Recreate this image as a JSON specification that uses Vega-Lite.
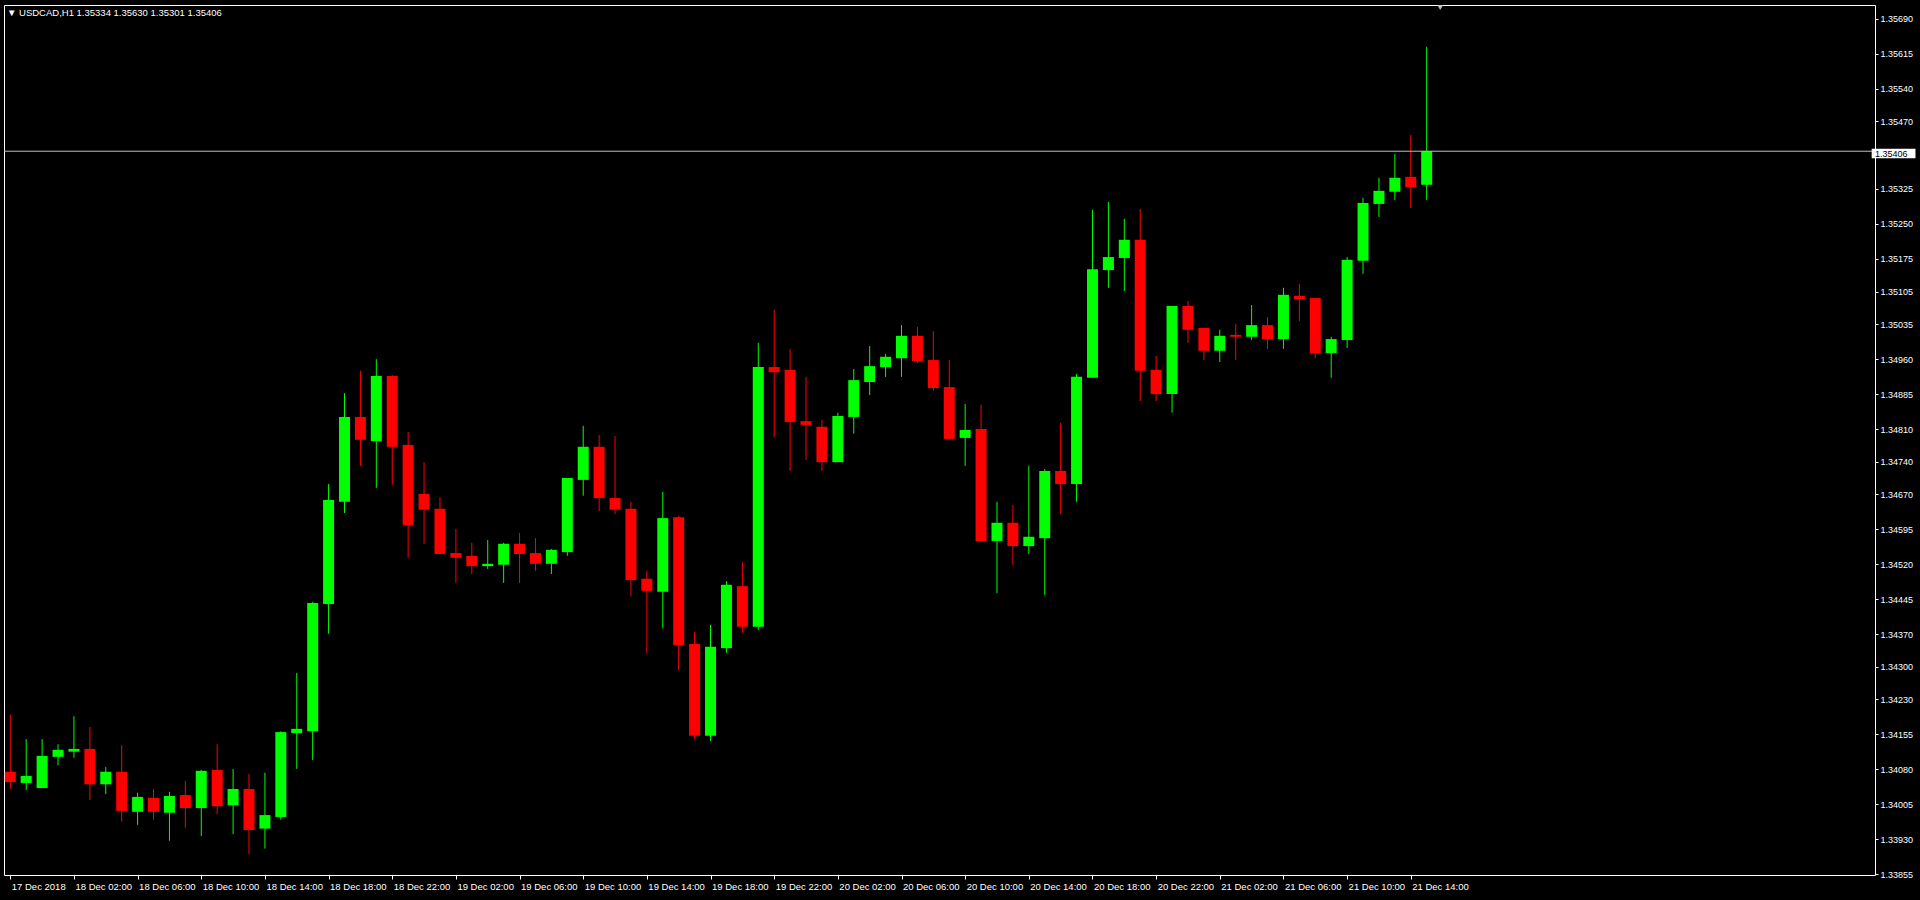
{
  "$schema": "https://vega.github.io/schema/vega-lite/v6.json",
  "width": 1871,
  "height": 870,
  "autosize": "none",
  "padding": {"left": 4, "top": 5, "right": 45, "bottom": 25},
  "background": "#000000",
  "title": {
    "text": "▼ USDCAD,H1  1.35334 1.35630 1.35301 1.35406",
    "anchor": "start",
    "frame": "group",
    "orient": "top",
    "offset": -20,
    "baseline": "alphabetic",
    "dx": 3,
    "color": "#ffffff",
    "font": "Liberation Sans",
    "fontSize": 9.5,
    "fontWeight": "normal"
  },
  "datasets": {
    "candles": [
      {"t": "2018-12-17T22:00Z", "o": 1.34075, "h": 1.34198, "l": 1.34038, "c": 1.34053},
      {"t": "2018-12-17T23:00Z", "o": 1.34051, "h": 1.34145, "l": 1.34036, "c": 1.34066},
      {"t": "2018-12-18T00:00Z", "o": 1.34040, "h": 1.34145, "l": 1.34040, "c": 1.34109},
      {"t": "2018-12-18T01:00Z", "o": 1.34107, "h": 1.34134, "l": 1.34089, "c": 1.34122},
      {"t": "2018-12-18T02:00Z", "o": 1.34118, "h": 1.34194, "l": 1.34105, "c": 1.34124},
      {"t": "2018-12-18T03:00Z", "o": 1.34124, "h": 1.34171, "l": 1.34014, "c": 1.34048},
      {"t": "2018-12-18T04:00Z", "o": 1.34048, "h": 1.34085, "l": 1.34027, "c": 1.34075},
      {"t": "2018-12-18T05:00Z", "o": 1.34075, "h": 1.34132, "l": 1.33968, "c": 1.33991},
      {"t": "2018-12-18T06:00Z", "o": 1.33989, "h": 1.34030, "l": 1.33961, "c": 1.34021},
      {"t": "2018-12-18T07:00Z", "o": 1.34019, "h": 1.34038, "l": 1.33972, "c": 1.33989},
      {"t": "2018-12-18T08:00Z", "o": 1.33987, "h": 1.34032, "l": 1.33927, "c": 1.34023},
      {"t": "2018-12-18T09:00Z", "o": 1.34025, "h": 1.34055, "l": 1.33955, "c": 1.33997},
      {"t": "2018-12-18T10:00Z", "o": 1.33997, "h": 1.34079, "l": 1.33937, "c": 1.34077},
      {"t": "2018-12-18T11:00Z", "o": 1.34079, "h": 1.34134, "l": 1.33984, "c": 1.34001},
      {"t": "2018-12-18T12:00Z", "o": 1.34003, "h": 1.34081, "l": 1.33941, "c": 1.34038},
      {"t": "2018-12-18T13:00Z", "o": 1.34038, "h": 1.34070, "l": 1.33898, "c": 1.33950},
      {"t": "2018-12-18T14:00Z", "o": 1.33953, "h": 1.34073, "l": 1.33910, "c": 1.33982},
      {"t": "2018-12-18T15:00Z", "o": 1.33978, "h": 1.34162, "l": 1.33972, "c": 1.34160},
      {"t": "2018-12-18T16:00Z", "o": 1.34158, "h": 1.34287, "l": 1.34081, "c": 1.34167},
      {"t": "2018-12-18T17:00Z", "o": 1.34162, "h": 1.34439, "l": 1.34100, "c": 1.34437},
      {"t": "2018-12-18T18:00Z", "o": 1.34435, "h": 1.34692, "l": 1.34371, "c": 1.34658},
      {"t": "2018-12-18T19:00Z", "o": 1.34654, "h": 1.34887, "l": 1.34630, "c": 1.34836},
      {"t": "2018-12-18T20:00Z", "o": 1.34836, "h": 1.34935, "l": 1.34731, "c": 1.34787},
      {"t": "2018-12-18T21:00Z", "o": 1.34784, "h": 1.34960, "l": 1.34684, "c": 1.34924},
      {"t": "2018-12-18T22:00Z", "o": 1.34924, "h": 1.34926, "l": 1.34690, "c": 1.34772},
      {"t": "2018-12-18T23:00Z", "o": 1.34776, "h": 1.34804, "l": 1.34534, "c": 1.34604},
      {"t": "2018-12-19T00:00Z", "o": 1.34671, "h": 1.34739, "l": 1.34564, "c": 1.34637},
      {"t": "2018-12-19T01:00Z", "o": 1.34639, "h": 1.34664, "l": 1.34542, "c": 1.34542},
      {"t": "2018-12-19T02:00Z", "o": 1.34544, "h": 1.34596, "l": 1.34480, "c": 1.34534},
      {"t": "2018-12-19T03:00Z", "o": 1.34538, "h": 1.34566, "l": 1.34499, "c": 1.34516},
      {"t": "2018-12-19T04:00Z", "o": 1.34516, "h": 1.34572, "l": 1.34510, "c": 1.34521},
      {"t": "2018-12-19T05:00Z", "o": 1.34519, "h": 1.34566, "l": 1.34480, "c": 1.34564},
      {"t": "2018-12-19T06:00Z", "o": 1.34564, "h": 1.34587, "l": 1.34480, "c": 1.34542},
      {"t": "2018-12-19T07:00Z", "o": 1.34544, "h": 1.34576, "l": 1.34506, "c": 1.34521},
      {"t": "2018-12-19T08:00Z", "o": 1.34521, "h": 1.34553, "l": 1.34499, "c": 1.34551},
      {"t": "2018-12-19T09:00Z", "o": 1.34546, "h": 1.34705, "l": 1.34538, "c": 1.34705},
      {"t": "2018-12-19T10:00Z", "o": 1.34701, "h": 1.34817, "l": 1.34667, "c": 1.34772},
      {"t": "2018-12-19T11:00Z", "o": 1.34772, "h": 1.34797, "l": 1.34634, "c": 1.34662},
      {"t": "2018-12-19T12:00Z", "o": 1.34662, "h": 1.34795, "l": 1.34628, "c": 1.34637},
      {"t": "2018-12-19T13:00Z", "o": 1.34639, "h": 1.34654, "l": 1.34452, "c": 1.34486},
      {"t": "2018-12-19T14:00Z", "o": 1.34489, "h": 1.34506, "l": 1.34328, "c": 1.34463},
      {"t": "2018-12-19T15:00Z", "o": 1.34461, "h": 1.34675, "l": 1.34383, "c": 1.34619},
      {"t": "2018-12-19T16:00Z", "o": 1.34621, "h": 1.34624, "l": 1.34293, "c": 1.34347},
      {"t": "2018-12-19T17:00Z", "o": 1.34349, "h": 1.34375, "l": 1.34145, "c": 1.34152},
      {"t": "2018-12-19T18:00Z", "o": 1.34152, "h": 1.34390, "l": 1.34141, "c": 1.34343},
      {"t": "2018-12-19T19:00Z", "o": 1.34340, "h": 1.34484, "l": 1.34330, "c": 1.34476},
      {"t": "2018-12-19T20:00Z", "o": 1.34473, "h": 1.34525, "l": 1.34373, "c": 1.34386},
      {"t": "2018-12-19T21:00Z", "o": 1.34386, "h": 1.34995, "l": 1.34379, "c": 1.34943},
      {"t": "2018-12-19T22:00Z", "o": 1.34943, "h": 1.35066, "l": 1.34793, "c": 1.34932},
      {"t": "2018-12-19T23:00Z", "o": 1.34937, "h": 1.34982, "l": 1.34720, "c": 1.34825},
      {"t": "2018-12-20T00:00Z", "o": 1.34827, "h": 1.34922, "l": 1.34744, "c": 1.34819},
      {"t": "2018-12-20T01:00Z", "o": 1.34815, "h": 1.34830, "l": 1.34720, "c": 1.34739},
      {"t": "2018-12-20T02:00Z", "o": 1.34739, "h": 1.34845, "l": 1.34739, "c": 1.34838},
      {"t": "2018-12-20T03:00Z", "o": 1.34836, "h": 1.34939, "l": 1.34800, "c": 1.34915},
      {"t": "2018-12-20T04:00Z", "o": 1.34911, "h": 1.34988, "l": 1.34883, "c": 1.34945},
      {"t": "2018-12-20T05:00Z", "o": 1.34943, "h": 1.34971, "l": 1.34922, "c": 1.34965},
      {"t": "2018-12-20T06:00Z", "o": 1.34962, "h": 1.35033, "l": 1.34922, "c": 1.35010},
      {"t": "2018-12-20T07:00Z", "o": 1.35010, "h": 1.35029, "l": 1.34952, "c": 1.34956},
      {"t": "2018-12-20T08:00Z", "o": 1.34958, "h": 1.35020, "l": 1.34892, "c": 1.34898},
      {"t": "2018-12-20T09:00Z", "o": 1.34900, "h": 1.34958, "l": 1.34787, "c": 1.34789},
      {"t": "2018-12-20T10:00Z", "o": 1.34791, "h": 1.34864, "l": 1.34731, "c": 1.34808},
      {"t": "2018-12-20T11:00Z", "o": 1.34810, "h": 1.34862, "l": 1.34570, "c": 1.34570},
      {"t": "2018-12-20T12:00Z", "o": 1.34570, "h": 1.34654, "l": 1.34458, "c": 1.34609},
      {"t": "2018-12-20T13:00Z", "o": 1.34609, "h": 1.34647, "l": 1.34519, "c": 1.34559},
      {"t": "2018-12-20T14:00Z", "o": 1.34559, "h": 1.34731, "l": 1.34542, "c": 1.34579},
      {"t": "2018-12-20T15:00Z", "o": 1.34576, "h": 1.34724, "l": 1.34454, "c": 1.34720},
      {"t": "2018-12-20T16:00Z", "o": 1.34720, "h": 1.34823, "l": 1.34628, "c": 1.34692},
      {"t": "2018-12-20T17:00Z", "o": 1.34692, "h": 1.34928, "l": 1.34654, "c": 1.34922},
      {"t": "2018-12-20T18:00Z", "o": 1.34920, "h": 1.35280, "l": 1.34920, "c": 1.35153},
      {"t": "2018-12-20T19:00Z", "o": 1.35151, "h": 1.35297, "l": 1.35113, "c": 1.35179},
      {"t": "2018-12-20T20:00Z", "o": 1.35177, "h": 1.35261, "l": 1.35106, "c": 1.35216},
      {"t": "2018-12-20T21:00Z", "o": 1.35216, "h": 1.35282, "l": 1.34870, "c": 1.34935},
      {"t": "2018-12-20T22:00Z", "o": 1.34937, "h": 1.34967, "l": 1.34870, "c": 1.34885},
      {"t": "2018-12-20T23:00Z", "o": 1.34885, "h": 1.35074, "l": 1.34845, "c": 1.35074},
      {"t": "2018-12-21T00:00Z", "o": 1.35074, "h": 1.35085, "l": 1.34995, "c": 1.35023},
      {"t": "2018-12-21T01:00Z", "o": 1.35027, "h": 1.35027, "l": 1.34958, "c": 1.34978},
      {"t": "2018-12-21T02:00Z", "o": 1.34978, "h": 1.35023, "l": 1.34954, "c": 1.35010},
      {"t": "2018-12-21T03:00Z", "o": 1.35012, "h": 1.35035, "l": 1.34958, "c": 1.35008},
      {"t": "2018-12-21T04:00Z", "o": 1.35008, "h": 1.35076, "l": 1.35001, "c": 1.35033},
      {"t": "2018-12-21T05:00Z", "o": 1.35033, "h": 1.35050, "l": 1.34982, "c": 1.35003},
      {"t": "2018-12-21T06:00Z", "o": 1.35003, "h": 1.35113, "l": 1.34982, "c": 1.35098},
      {"t": "2018-12-21T07:00Z", "o": 1.35096, "h": 1.35121, "l": 1.35042, "c": 1.35089},
      {"t": "2018-12-21T08:00Z", "o": 1.35091, "h": 1.35091, "l": 1.34962, "c": 1.34972},
      {"t": "2018-12-21T09:00Z", "o": 1.34973, "h": 1.35008, "l": 1.34920, "c": 1.35003},
      {"t": "2018-12-21T10:00Z", "o": 1.35001, "h": 1.35179, "l": 1.34984, "c": 1.35173},
      {"t": "2018-12-21T11:00Z", "o": 1.35171, "h": 1.35306, "l": 1.35143, "c": 1.35295},
      {"t": "2018-12-21T12:00Z", "o": 1.35293, "h": 1.35349, "l": 1.35265, "c": 1.35321},
      {"t": "2018-12-21T13:00Z", "o": 1.35319, "h": 1.35400, "l": 1.35301, "c": 1.35349},
      {"t": "2018-12-21T14:00Z", "o": 1.35351, "h": 1.35441, "l": 1.35284, "c": 1.35329},
      {"t": "2018-12-21T15:00Z", "o": 1.35334, "h": 1.35630, "l": 1.35301, "c": 1.35406}
    ],
    "last": [{"price": 1.35406}]
  },
  "layer": [
    {
      "data": {"name": "candles"},
      "mark": {"type": "rule", "strokeWidth": 1},
      "encoding": {
        "x": {
          "field": "t", "type": "temporal",
          "scale": {"type": "utc", "domain": [1545083707500, 1545504682500]},
          "axis": {
            "title": null,
            "values": [1545084000000, 1545098400000, 1545112800000, 1545127200000, 1545141600000, 1545156000000, 1545170400000, 1545184800000, 1545199200000, 1545213600000, 1545228000000, 1545242400000, 1545256800000, 1545271200000, 1545285600000, 1545300000000, 1545314400000, 1545328800000, 1545343200000, 1545357600000, 1545372000000, 1545386400000, 1545400800000],
            "labelExpr": "utcFormat(datum.value, '%d %H') == '17 22' ? '17 Dec 2018' : utcFormat(datum.value, '%d %b %H:%M')",
            "labelAlign": "left",
            "labelBaseline": "top",
            "labelFontSize": 9.5,
            "labelPadding": 2,
            "labelOffset": 1,
            "tickSize": 4
          }
        },
        "y": {
          "field": "l", "type": "quantitative",
          "scale": {"domain": [1.338535, 1.357196], "nice": false, "zero": false},
          "axis": {
            "title": null,
            "orient": "right",
            "values": [1.33855, 1.3393, 1.34005, 1.3408, 1.34155, 1.3423, 1.343, 1.3437, 1.34445, 1.3452, 1.34595, 1.3467, 1.3474, 1.3481, 1.34885, 1.3496, 1.35035, 1.35105, 1.35175, 1.3525, 1.35325, 1.3547, 1.3554, 1.35615, 1.3569],
            "tickCount": 100,
            "format": ".5f",
            "labelFontSize": 9,
            "labelPadding": 2,
            "tickSize": 3
          }
        },
        "y2": {"field": "h"},
        "color": {"condition": {"test": "datum.c >= datum.o", "value": "#00ff00"}, "value": "#ff0000"}
      }
    },
    {
      "data": {"name": "candles"},
      "mark": {"type": "bar", "width": 11},
      "encoding": {
        "x": {"field": "t", "type": "temporal", "scale": {"type": "utc", "domain": [1545083707500, 1545504682500]}},
        "y": {"field": "o", "type": "quantitative", "scale": {"domain": [1.338535, 1.357196], "nice": false, "zero": false}},
        "y2": {"field": "c"},
        "color": {"condition": {"test": "datum.c >= datum.o", "value": "#00ff00"}, "value": "#ff0000"}
      }
    },
    {
      "data": {"name": "last"},
      "mark": {"type": "rule", "color": "#c0c0c0", "strokeWidth": 1},
      "encoding": {
        "y": {"field": "price", "type": "quantitative", "scale": {"domain": [1.338535, 1.357196], "nice": false, "zero": false}}
      }
    },
    {
      "data": {"name": "last"},
      "mark": {"type": "rect", "color": "#ffffff"},
      "encoding": {
        "x": {"datum": {"year": 2018, "month": 12, "date": 22, "hours": 18, "minutes": 57, "seconds": 45, "utc": true}, "type": "temporal", "scale": {"type": "utc", "domain": [1545083707500, 1545504682500]}},
        "x2": {"datum": {"year": 2018, "month": 12, "date": 22, "hours": 21, "minutes": 42, "seconds": 45, "utc": true}},
        "y": {"datum": 1.35411, "type": "quantitative", "scale": {"domain": [1.338535, 1.357196], "nice": false, "zero": false}},
        "y2": {"datum": 1.35391}
      }
    },
    {
      "data": {"name": "last"},
      "mark": {"type": "text", "color": "#000000", "align": "left", "baseline": "middle", "font": "Liberation Sans", "fontSize": 9},
      "encoding": {
        "x": {"datum": {"year": 2018, "month": 12, "date": 22, "hours": 19, "minutes": 10, "seconds": 7, "utc": true}, "type": "temporal", "scale": {"type": "utc", "domain": [1545083707500, 1545504682500]}},
        "y": {"datum": 1.35401, "type": "quantitative", "scale": {"domain": [1.338535, 1.357196], "nice": false, "zero": false}},
        "text": {"field": "price", "type": "quantitative", "format": ".5f"}
      }
    },
    {
      "data": {"name": "last"},
      "mark": {"type": "point", "shape": "triangle-down", "filled": true, "size": 30, "color": "#c0c0c0", "opacity": 1},
      "encoding": {
        "x": {"datum": {"year": 2018, "month": 12, "date": 21, "hours": 15, "minutes": 51, "utc": true}, "type": "temporal", "scale": {"type": "utc", "domain": [1545083707500, 1545504682500]}},
        "y": {"datum": 1.35714, "type": "quantitative", "scale": {"domain": [1.338535, 1.357196], "nice": false, "zero": false}}
      }
    }
  ],
  "config": {
    "view": {"stroke": "#ffffff", "strokeWidth": 1},
    "axis": {
      "domain": false,
      "grid": false,
      "labelColor": "#ffffff",
      "tickColor": "#ffffff",
      "labelFont": "Liberation Sans",
      "labelOverlap": false,
      "labelFlush": false,
      "labelBound": false
    }
  }
}
